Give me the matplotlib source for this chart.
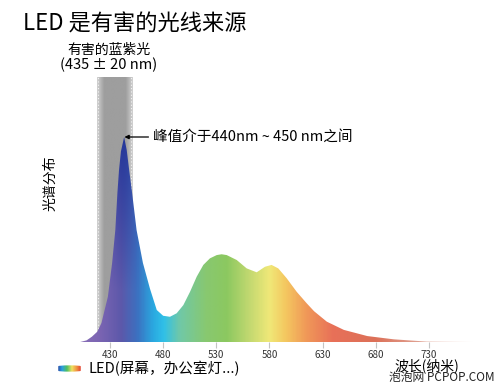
import numpy as np
import matplotlib
matplotlib.use("Agg")
from matplotlib import pyplot as plt
from matplotlib.colors import LinearSegmentedColormap, to_rgb
from matplotlib.patches import FancyBboxPatch

plt.rcParams['font.family'] = ['Noto Sans CJK SC', 'DejaVu Sans']

# spectrum (relative intensity, peak = 1)
wavelength = [402, 408, 413, 418, 422, 428, 432, 435, 437, 438.5, 440.3, 443.3, 445.7,
              448, 450.5, 455, 461, 467.6, 474, 480, 486.4, 492.7, 499, 505.3, 511.6,
              517.8, 524, 530.4, 535, 539.8, 549.2, 558.6, 568, 575.8, 582, 588.3,
              596.2, 605.6, 615, 622, 634, 650, 672, 697, 728, 771]
intensity = [0.0, 0.008, 0.026, 0.05, 0.093, 0.221, 0.385, 0.546, 0.73, 0.84, 0.93, 1.0,
             0.937, 0.84, 0.74, 0.546, 0.385, 0.26, 0.156, 0.128, 0.123, 0.14, 0.18,
             0.245, 0.319, 0.376, 0.408, 0.424, 0.428, 0.424, 0.40, 0.359, 0.34, 0.367,
             0.376, 0.359, 0.311, 0.245, 0.189, 0.15, 0.099, 0.059, 0.029, 0.013,
             0.002, 0.0]

tick_values = [430, 480, 530, 580, 630, 680, 730]
band_range = (418, 451)   # harmful blue light band

title = "LED 是有害的光线来源"
band_label = "有害的蓝紫光"
band_range_label = "(435 ± 20 nm)"
peak_label = "峰值介于440nm ~ 450 nm之间"
y_label = "光谱分布"
x_label = "波长(纳米)"
legend_label = "LED(屏幕，办公室灯...)"
watermark = "泡泡网 PCPOP.COM"

W, H = 500, 387


def fx(x):
    return x / W


def fy(y):
    return 1 - y / H


fig = plt.figure(figsize=(5, 3.87), dpi=100)
fig.patch.set_facecolor("white")

# axes placed so that 430nm sits at x=110px, baseline at y=342px
x0, x1 = 70, 480
nm_per_px = 1 / 1.063
ax = fig.add_axes([fx(x0), fy(342), (x1 - x0) / W, (342 - 77) / H])
ax.set_xlim(430 + (x0 - 110) * nm_per_px, 430 + (x1 - 110) * nm_per_px)
ax.set_ylim(0, (342 - 77) / 205)
for s in ax.spines.values():
    s.set_visible(False)
ax.set_yticks([])

# gray band
bx = np.linspace(0, 1, 200)
prof = 0.62 + 0.2 * np.clip(np.abs(bx - 0.5) * 2 - 0.6, 0, 1) / 0.4
band_img = np.repeat(prof[None, :], 2, axis=0)
ax.imshow(band_img, cmap="gray", vmin=0, vmax=1, aspect="auto",
          extent=[band_range[0], band_range[1], 0, ax.get_ylim()[1]], zorder=1)
for b in band_range:
    ax.axvline(b + (0.9 if b == band_range[0] else -0.9), color="white", lw=0.8,
               ls=(0, (1, 2)), alpha=0.8, zorder=1.5)

# spectrum fill with gradient
stops = [(400, "#8a70b8"), (420, "#7a64b2"), (440, "#5c58aa"), (455, "#3c70c0"),
         (470, "#2aa8e0"), (480, "#30c0e8"), (495, "#70c8a8"), (520, "#88c870"),
         (540, "#8cc860"), (560, "#c0d870"), (580, "#f0e878"), (595, "#f4c860"),
         (615, "#f09858"), (640, "#e87058"), (680, "#dc7058"), (720, "#e0a090"),
         (775, "#f2d8d0")]
lo, hi = stops[0][0], stops[-1][0]
cmap = LinearSegmentedColormap.from_list(
    "spec", [((w - lo) / (hi - lo), c) for w, c in stops])
gx = np.linspace(lo, hi, 600)
gy = np.linspace(0, 1.0, 200)
base = cmap((gx - lo) / (hi - lo))[:, :3]
img = np.repeat(base[None, :, :], len(gy), axis=0)
navy = np.array(to_rgb("#24379a"))
wx = np.exp(-((gx - 442) / 14) ** 2)
wy = np.clip((gy - 0.25) / 0.75, 0, 1)
wgt = (wy[:, None] * wx[None, :])[..., None]
img = img * (1 - wgt) + navy * wgt
im = ax.imshow(img, origin="lower", aspect="auto", extent=[lo, hi, 0, 1.0], zorder=2)
poly = ax.fill_between(wavelength, intensity, 0, color="none", lw=0)
im.set_clip_path(poly.get_paths()[0], transform=ax.transData)

ax.set_xticks(tick_values)
ax.set_xticklabels([str(t) for t in tick_values])
ax.tick_params(axis="x", direction="out", length=4.5, width=0.8, color="#c4c4c4",
               labelsize=7, labelcolor="#333333", pad=1)

# peak annotation
ax.annotate("", xy=(443.6, 1.0), xytext=(443.6 + 24 * nm_per_px, 1.0),
            arrowprops=dict(arrowstyle="-|>", color="black", lw=0.9,
                            mutation_scale=6, shrinkA=0, shrinkB=0), zorder=5)
fig.text(fx(153), fy(137), peak_label, fontsize=10.5, va="center", ha="left")

# texts
fig.text(fx(23), fy(24), title, fontsize=16, va="center", ha="left")
fig.text(fx(109), fy(50), band_label, fontsize=10, va="center", ha="center")
fig.text(fx(109), fy(65), band_range_label, fontsize=10.5, va="center", ha="center")
fig.text(fx(50), fy(183), y_label, fontsize=10, va="center", ha="center",
         rotation=90)
fig.text(fx(88), fy(369), legend_label, fontsize=10.5, va="center", ha="left")
fig.text(fx(427), fy(366), x_label, fontsize=10, va="center", ha="center")
fig.text(fx(495), fy(377), watermark, fontsize=8.5, va="center", ha="right",
         color="#222222")

# rainbow pill legend icon
pax = fig.add_axes([fx(57), fy(372), 25 / W, 7 / H])
pax.set_xlim(0, 1)
pax.set_ylim(0, 1)
pax.axis("off")
rainbow = LinearSegmentedColormap.from_list(
    "rb", ["#2a3a9a", "#2aa0e0", "#50c060", "#f0e060", "#f09040", "#e03030"])
pim = pax.imshow(np.linspace(0, 1, 100)[None, :], cmap=rainbow, aspect="auto",
                 extent=[0, 1, 0, 1])
pill = FancyBboxPatch((0.05, 0.05), 0.9, 0.9, boxstyle="round,pad=0,rounding_size=0.45",
                      transform=pax.transData, facecolor="none", edgecolor="none",
                      mutation_aspect=1 / 3.5)
pax.add_patch(pill)
pim.set_clip_path(pill)

fig.savefig("out.png", dpi=100)
